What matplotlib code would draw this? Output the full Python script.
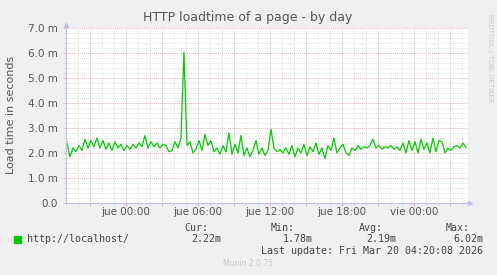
import numpy as np
import matplotlib
matplotlib.use("Agg")
import matplotlib.pyplot as plt
from matplotlib.ticker import MultipleLocator, FixedLocator

## Data (load time in ms, one sample every 15 min, hours relative to "jue 00:00")
start_hour = -4.92
step_hour = 0.25
load_ms = [2.4, 1.85, 2.2, 2.05, 2.3, 2.1, 2.55, 2.2, 2.5, 2.25,
           2.6, 2.2, 2.5, 2.15, 2.4, 2.1, 2.45, 2.2, 2.35, 2.1,
           2.3, 2.15, 2.35, 2.2, 2.4, 2.25, 2.7, 2.2, 2.45, 2.25,
           2.4, 2.2, 2.35, 2.3, 2.05, 2.1, 2.45, 2.2, 2.6, 6.02,
           2.3, 2.45, 2.0, 2.15, 2.5, 2.1, 2.75, 2.3, 2.5, 2.05,
           2.2, 1.95, 2.3, 2.05, 2.8, 1.95, 2.35, 2.0, 2.7, 1.9,
           2.2, 1.85, 2.1, 2.5, 1.95, 2.2, 1.9, 2.1, 2.95, 2.2,
           2.05, 2.15, 2.0, 2.2, 1.95, 2.3, 1.85, 2.2, 2.0, 2.35,
           1.9, 2.25, 2.05, 2.4, 1.95, 2.2, 1.78, 2.3, 2.1, 2.6,
           2.0, 2.2, 2.35, 2.0, 1.9, 2.2, 2.1, 2.3, 2.15, 2.25,
           2.2, 2.3, 2.55, 2.2, 2.3, 2.15, 2.25, 2.2, 2.3, 2.15,
           2.25, 2.1, 2.4, 2.0, 2.5, 2.1, 2.45, 2.0, 2.55, 2.15,
           2.4, 2.0, 2.6, 2.05, 2.5, 2.45, 2.0, 2.2, 2.1, 2.25,
           2.3, 2.2, 2.4, 2.22]
hours = start_hour + step_hour * np.arange(len(load_ms))

ytick_vals = [0, 1, 2, 3, 4, 5, 6, 7]
ytick_labels = ["0.0", "1.0 m", "2.0 m", "3.0 m", "4.0 m", "5.0 m", "6.0 m", "7.0 m"]
xlabel_hours = [0, 6, 12, 18, 24]
xlabel_texts = ["jue 00:00", "jue 06:00", "jue 12:00", "jue 18:00", "vie 00:00"]

legend_name = "http://localhost/"
stat_heads = ["Cur:", "Min:", "Avg:", "Max:"]
stat_vals = ["2.22m", "1.78m", "2.19m", "6.02m"]

W, H = 497, 275
def fx(x): return x / W
def fy(y): return 1 - y / H

fig = plt.figure(figsize=(W / 100, H / 100), dpi=100)
fig.patch.set_facecolor("#f0f0f0")
ax = fig.add_axes([fx(66), fy(203), (468 - 66) / W, (203 - 28) / H])
ax.set_facecolor("#ffffff")

txt = "#555555"
ax.set_xlim(-5.0, 28.5)
ax.set_ylim(0, 7)

# grid
ax.xaxis.set_minor_locator(MultipleLocator(1))
ax.yaxis.set_minor_locator(MultipleLocator(0.2))
ax.xaxis.set_major_locator(FixedLocator(np.arange(-3, 28, 3)))
ax.set_xticklabels([])
ax.grid(which="minor", color="#e0e0e0", linestyle=(0, (1, 1)), linewidth=0.7)
ax.grid(which="major", color="#e8b4b4", linestyle=(0, (1, 1)), linewidth=0.7)
ax.set_axisbelow(True)

ax.set_yticks(ytick_vals)
ax.set_yticklabels(ytick_labels, fontsize=7.5, color=txt)
ax.tick_params(axis="both", which="major", length=2, color="#e8b4b4", pad=4)
ax.tick_params(axis="both", which="minor", length=1.5, color="#cccccc")
for h, lab in zip(xlabel_hours, xlabel_texts):
    ax.text(h, -0.17, lab, ha="center", va="top", fontsize=7.5, color=txt)

for s in ["top", "right"]:
    ax.spines[s].set_visible(False)
for s in ["left", "bottom"]:
    ax.spines[s].set_color("#c0c0f0")
    ax.spines[s].set_linewidth(0.8)
ax.plot([0], [1.02], marker="^", color="#c0c0f0", markersize=3,
        transform=ax.transAxes, clip_on=False)
ax.plot([1.006], [0], marker=">", color="#c0c0f0", markersize=3,
        transform=ax.transAxes, clip_on=False)

ax.plot(hours, load_ms, color="#00cc00", linewidth=0.9)

# texts
fig.text(fx(248), fy(18), "HTTP loadtime of a page - by day", ha="center", va="center",
         fontsize=9, color=txt)
fig.text(fx(11), fy(115), "Load time in seconds", rotation=90, ha="center", va="center",
         fontsize=8, color=txt)
fig.text(fx(490), fy(14), "RRDTOOL / TOBI OETIKER", rotation=270, ha="center", va="top",
         fontsize=5, color="#c8c8c8")

mono = dict(family="DejaVu Sans Mono", fontsize=7.2, color="#444444")
fig.patches.append(plt.Rectangle((fx(14), fy(243)), 7 / W, 7 / H, color="#00cc00",
                                 transform=fig.transFigure))
fig.text(fx(27), fy(239.5), legend_name, ha="left", va="center", **mono)
head_right = [208, 295, 383, 470]
val_right = [221, 313, 396, 483]
for hd, hr, v, vr in zip(stat_heads, head_right, stat_vals, val_right):
    fig.text(fx(hr), fy(228), hd, ha="right", va="center", **mono)
    fig.text(fx(vr), fy(239.5), v, ha="right", va="center", **mono)
fig.text(fx(483), fy(251), "Last update: Fri Mar 20 04:20:08 2026", ha="right", va="center", **mono)
fig.text(fx(248), fy(264), "Munin 2.0.75", ha="center", va="center", fontsize=5.5, color="#c8c8c8")

fig.savefig("out.png", dpi=100, facecolor=fig.get_facecolor())
